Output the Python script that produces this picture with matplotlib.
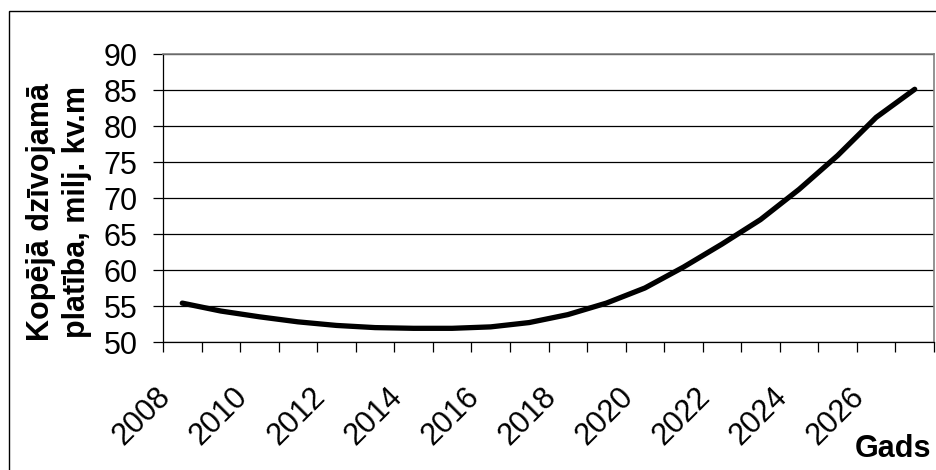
import matplotlib.pyplot as plt
from matplotlib.patches import Rectangle
from matplotlib.transforms import ScaledTranslation

# dati
years = list(range(2008, 2028))
area = [55.4, 54.3, 53.5, 52.8, 52.3, 52.0, 51.9, 51.9, 52.1, 52.7,
        53.8, 55.4, 57.5, 60.4, 63.6, 67.0, 71.2, 75.9, 81.2, 85.1]
y_ticks = [50, 55, 60, 65, 70, 75, 80, 85, 90]
x_labels = [str(y) for y in years[::2]]

plt.rcParams['font.family'] = ['Liberation Sans', 'DejaVu Sans']

W, H = 936, 470
fs = 22
fig = plt.figure(figsize=(W / 100, H / 100), dpi=100)
ax = fig.add_axes([163 / W, 1 - 342 / H, (934 - 163) / W, (342 - 54) / H])

# kategoriju ass: punkti kategoriju vidū
xs = [i + 0.5 for i in range(len(years))]
ax.plot(xs, area, color='black', lw=3.8, solid_capstyle='round', solid_joinstyle='round')

ax.set_xlim(0, len(years))
ax.set_ylim(y_ticks[0], y_ticks[-1])
ax.set_yticks(y_ticks)
ax.yaxis.grid(True, color='black', lw=0.9)
ax.set_axisbelow(True)

ax.set_xticks(range(len(years) + 1))
ax.set_xticklabels([])
ax.set_xticks(xs[::2], minor=True)
ax.set_xticklabels(x_labels, minor=True)

ax.tick_params(axis='y', direction='out', length=7.2, width=0.9, labelsize=fs, pad=11)
ax.tick_params(axis='x', which='major', direction='out', length=7.2, width=0.9)
ax.tick_params(axis='x', which='minor', length=0, labelsize=fs, pad=36)

shift = ScaledTranslation(-16 / 100, 0, fig.dpi_scale_trans)
for lab in ax.get_xticklabels(minor=True):
    lab.set_rotation(45)
    lab.set_ha('right')
    lab.set_va('center')
    lab.set_rotation_mode('anchor')
    lab.set_transform(lab.get_transform() + shift)

for s in ['top', 'right']:
    ax.spines[s].set_color('#808080')
    ax.spines[s].set_linewidth(1.2)
for s in ['left', 'bottom']:
    ax.spines[s].set_color('black')
    ax.spines[s].set_linewidth(0.9)

fig.text(59 / W, 1 - 212 / H, 'Kopējā dzīvojamā\nplatība, milj. kv.m', rotation=90,
         ha='center', va='center', multialignment='center', fontsize=fs,
         fontweight='bold', linespacing=1.25)
fig.text(931 / W, 1 - 457 / H, 'Gads', ha='right', va='baseline', fontsize=fs,
         fontweight='bold')

# rāmis ap diagrammu
fig.add_artist(Rectangle((9 / W, -0.1), 1.0, 1 - 11 / H + 0.1, transform=fig.transFigure,
                         fill=False, edgecolor='black', lw=1))

fig.savefig('out.png', dpi=100)
